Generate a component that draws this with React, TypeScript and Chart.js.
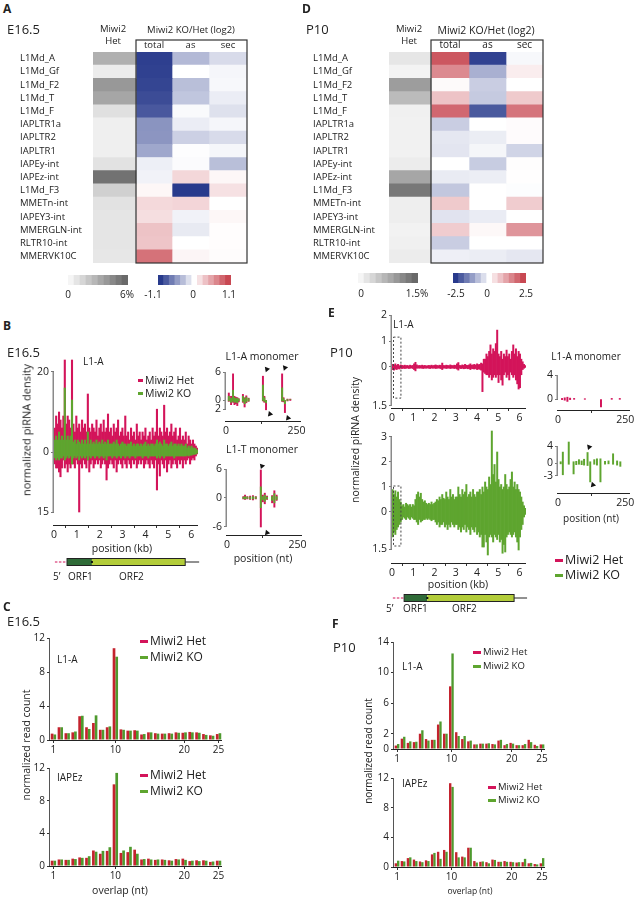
import React, { useEffect, useRef } from 'react';
import { Chart, registerables } from 'chart.js';
Chart.register(...registerables);

const FONT = '"Open Sans", "Noto Sans", "DejaVu Sans", sans-serif';
Chart.defaults.font.family = FONT;
Chart.defaults.color = '#222';

// ================= DATA =================
const teRows = ['L1Md_A', 'L1Md_Gf', 'L1Md_F2', 'L1Md_T', 'L1Md_F', 'IAPLTR1a', 'IAPLTR2', 'IAPLTR1', 'IAPEy-int', 'IAPEz-int', 'L1Md_F3', 'MMETn-int', 'IAPEY3-int', 'MMERGLN-int', 'RLTR10-int', 'MMERVK10C'];
const heatHeaders = ['total', 'as', 'sec'];

// Panel A (E16.5): Het abundance (%), log2 KO/Het
const aHet = [2.96, 0.4, 4.0, 3.4, 0.9, 0.26, 0.26, 0.26, 0.8, 5.6, 1.6, 0.8, 0.7, 0.7, 0.7, 0.6];
const aTotal = [-1.07, -1.06, -1.04, -1.0, -0.93, -0.6, -0.59, -0.49, -0.09, -0.07, 0.05, 0.23, 0.2, 0.36, 0.35, 0.85];
const aAs = [-0.39, 0, -0.36, -0.32, -0.03, -0.1, -0.26, -0.01, -0.02, 0.24, -1.1, 0.25, -0.07, -0.12, 0, 0.06];
const aSec = [-0.2, -0.05, -0.04, -0.1, -0.17, -0.05, -0.2, -0.05, -0.36, 0.05, 0.18, 0, 0.05, 0.01, 0.01, 0.02];
const aGrayMax = 6;
const aRatioMax = 1.1;

// Panel D (P10)
const dHet = [0.16, 0.02, 0.94, 0.62, 0.05, 0.04, 0.04, 0.04, 0.1, 0.85, 1.34, 0.08, 0.08, 0.03, 0.05, 0.1];
const dTotal = [2.3, 1.6, 0.07, 0.82, 2.07, -0.63, -0.3, -0.33, 0, -0.26, -0.71, 0.73, -0.35, 0.7, -0.63, -0.2];
const dAs = [-2.4, -1.0, -0.63, -0.67, -2.1, 0, -0.23, -0.12, -0.65, -0.22, 0, 0, -0.24, 0.1, 0, -0.23];
const dSec = [-0.09, 0.25, 0, 0.73, 1.9, 0.05, 0.05, -0.55, 0.03, 0.02, -0.03, 0.7, 0, 1.45, 0, -0.3];
const dGrayMax = 1.5;
const dRatioMax = 2.5;

// Colour-bar steps
const aGraySteps = [0, 0.67, 1.33, 2, 2.67, 3.33, 4, 4.67, 5.33, 6];
const aRatioSteps = [-1.1, -0.92, -0.73, -0.55, -0.37, -0.18, 0, 0.18, 0.37, 0.55, 0.73, 0.92, 1.1];
const dGraySteps = [0, 0.17, 0.33, 0.5, 0.67, 0.83, 1.0, 1.17, 1.33, 1.5];
const dRatioSteps = [-2.5, -2.08, -1.67, -1.25, -0.83, -0.42, 0, 0.42, 0.83, 1.25, 1.67, 2.08, 2.5];

// Panel B: L1-A piRNA density, 100 bins of 63 nt (E16.5)
const bBinKb = 0.063;
const bHetS = [6, 9, 7, 10, 8, 6, 9, 23, 7, 9, 8, 6, 23, 7, 5, 9, 6, 7, 5, 8, 6, 7, 5, 14.5, 6, 5, 7, 6, 5, 8, 4, 6, 7, 5, 8, 5, 6, 9.5, 5, 6, 4, 7, 5, 6, 8, 4, 5, 6, 4, 9, 4, 5, 3, 6, 4, 5, 3, 7, 4, 5, 3, 5, 4, 6, 3, 4, 5, 3, 6, 4, 5, 10.7, 4, 6, 5, 4, 11.7, 5, 6, 4, 5, 7, 4, 5, 6, 3, 4, 6, 3, 4, 3, 5, 2, 4, 3, 2, 3, 2, 1.5, 1];
const bHetA = [-3, -4, -4, -5, -6.2, -4, -2, -4, -3, -5, -3, -4, -2, -3, -4, -2, -3, -15, -3, -4, -2, -3, -4, -2, -5, -3, -2, -4, -3, -2, -3, -2, -4, -3, -2, -3, -7, -4, -3, -2, -3, -4, -2, -5, -3, -2, -3, -4, -2, -3, -4, -2, -3, -4, -2, -3, -2, -4, -3, -2, -3, -2, -4, -3, -2, -3, -4, -2, -3, -4, -2, -9.5, -3, -6, -2, -3, -4, -2, -5, -3, -2, -4, -3, -2, -3, -4, -2, -3, -2, -4, -2, -3, -2, -1.5, -3, -2, -1.5, -2, -1, -0.5];
const bKoS = [3, 4, 3, 5, 3, 4, 3, 16, 3, 4, 3, 4, 13, 2.5, 3, 2, 3, 2.5, 2, 3, 2, 3, 2, 5, 2, 3, 2, 2.5, 2, 3, 2, 2.5, 2, 3, 2, 2.5, 2, 3, 2, 2, 2, 2.5, 2, 3, 2, 1.5, 2, 2.5, 2, 2, 1.5, 2, 2, 2.5, 1.5, 2, 1.5, 2, 2, 1.5, 2, 1.5, 2, 2.5, 1.5, 2, 1.5, 2, 2, 1.5, 2, 3, 2, 2.5, 2, 1.5, 3, 2, 2, 1.5, 2, 2.5, 1.5, 2, 2, 1.5, 2, 1.5, 2, 1.5, 1.5, 2, 1, 1.5, 1, 1.5, 1, 1, 0.8, 0.5];
const bKoA = [-1.5, -2, -1.5, -2, -1.5, -1.5, -1, -2, -1.5, -1, -1.5, -1, -3, -1.5, -1, -1.5, -1, -2, -1, -1.5, -1, -1.5, -1, -2, -1, -1.5, -1, -1, -1.5, -1, -1, -1.5, -1, -1, -1.5, -1, -2, -1, -1, -1, -1.5, -1, -1, -1.5, -1, -1, -1.5, -1, -1, -1.5, -1, -1, -1.5, -1, -1, -1, -1.5, -1, -1, -1, -1, -1.5, -1, -1, -1, -1.5, -1, -1, -1, -1, -1, -1.5, -1, -1.5, -1, -1, -1.5, -1, -1, -1, -1, -1, -1, -1.5, -1, -1, -1, -1, -1, -1, -1, -1, -0.8, -1, -0.8, -0.8, -0.6, -0.6, -0.5, -0.3];

// Panel B insets (nt positions, density)
const bm1Pos = [10, 18, 25, 30, 35, 40, 45, 60, 66, 72, 80, 131, 136, 142, 199, 204, 209, 218, 228];
const bm1HetS = [1.5, 0.8, 5.6, 0.8, 0.6, 0.5, 0.3, 1.2, 0.5, 0.9, 0.4, 5.1, 0.8, 0, 5.6, 0.5, 0, 0.2, 0.2];
const bm1HetA = [-0.3, -1.0, -0.5, -1.0, -0.8, -1.2, -0.4, -0.5, -1.5, -0.6, -0.3, -0.2, -0.5, -2.1, -0.3, -0.4, -2.7, -0.2, -0.1];
const bm1KoS = [0.8, 0.4, 2.1, 0.5, 0.3, 0.4, 0.2, 0.8, 0.3, 0.6, 0.3, 3.2, 0.5, 0, 2.6, 0.3, 0, 0.1, 0.1];
const bm1KoA = [-0.2, -0.5, -0.3, -0.5, -0.4, -0.6, -0.2, -0.3, -0.8, -0.4, -0.2, -0.1, -0.3, -0.6, -0.2, -0.2, -0.8, -0.1, 0];
const bm1ArrowX = [145, 209, 156, 220];
const bm1ArrowY = [6.6, 6.9, -3.0, -3.85];

const bm2Pos = [58, 64, 72, 82, 92, 102, 120, 127, 134, 142, 160, 168, 176];
const bm2HetS = [0.3, 0.6, 0.3, 0.4, 0.5, 0.3, 5.8, 0.6, 1.0, 0.4, 0.5, 1.5, 0.6];
const bm2HetA = [-0.2, -0.3, -0.2, -0.3, -0.4, -0.2, -6.0, -0.8, -1.2, -0.3, -1.0, -1.9, -0.5];
const bm2KoS = [0.15, 0.3, 0.2, 0.2, 0.3, 0.2, 2.3, 0.3, 0.6, 0.2, 0.3, 0.9, 0.3];
const bm2KoA = [-0.1, -0.2, -0.1, -0.2, -0.2, -0.1, -2.0, -0.4, -0.7, -0.2, -0.5, -1.0, -0.3];
const bm2ArrowX = [124, 142];
const bm2ArrowY = [6.6, -7.2];

// Panel E: P10 L1-A density, 100 bins of 63 nt
const eHetS = [0.1, 0.08, 0.12, 0.06, 0.1, 0.05, 0.08, 0.06, 0.05, 0.07, 0.05, 0.06, 0.04, 0.07, 0.05, 0.06, 0.12, 0.18, 0.08, 0.05, 0.06, 0.05, 0.07, 0.05, 0.06, 0.04, 0.05, 0.06, 0.05, 0.07, 0.05, 0.06, 0.08, 0.06, 0.05, 0.07, 0.06, 0.15, 0.06, 0.05, 0.07, 0.06, 0.05, 0.08, 0.06, 0.05, 0.07, 0.06, 0.12, 0.17, 0.06, 0.05, 0.08, 0.06, 0.1, 0.07, 0.06, 0.08, 0.12, 0.07, 0.08, 0.1, 0.07, 0.12, 0.09, 0.1, 0.15, 0.12, 0.3, 0.3, 0.5, 0.4, 0.6, 0.85, 0.5, 0.7, 0.6, 0.9, 1.42, 0.5, 0.4, 0.6, 0.3, 0.5, 0.4, 0.65, 0.4, 0.5, 0.3, 0.6, 0.85, 0.5, 0.7, 0.4, 0.6, 0.5, 0.3, 0.2, 0.1, 0.05];
const eHetA = [-0.1, -0.12, -0.08, -0.1, -0.06, -0.08, -0.05, -0.06, -0.05, -0.06, -0.05, -0.04, -0.06, -0.05, -0.04, -0.06, -0.1, -0.15, -0.05, -0.04, -0.05, -0.04, -0.05, -0.06, -0.04, -0.05, -0.04, -0.05, -0.06, -0.04, -0.05, -0.04, -0.06, -0.05, -0.04, -0.05, -0.06, -0.1, -0.05, -0.04, -0.06, -0.05, -0.04, -0.06, -0.05, -0.04, -0.06, -0.05, -0.08, -0.12, -0.05, -0.06, -0.05, -0.07, -0.06, -0.05, -0.07, -0.06, -0.1, -0.06, -0.07, -0.08, -0.06, -0.1, -0.08, -0.09, -0.12, -0.95, -0.2, -0.25, -0.3, -0.3, -0.4, -0.3, -0.5, -0.4, -0.3, -0.4, -0.3, -0.6, -0.3, -0.5, -0.7, -0.3, -0.2, -0.4, -0.3, -0.5, -0.2, -0.3, -0.4, -0.3, -0.5, -0.65, -0.85, -0.8, -0.3, -0.1, -0.05, -0.02];
const eKoS = [0.9, 0.7, 0.85, 0.6, 0.8, 0.5, 0.4, 0.25, 0.3, 0.2, 0.35, 0.3, 0.25, 0.3, 0.2, 0.3, 0.25, 0.5, 0.7, 0.8, 0.6, 0.75, 0.5, 0.4, 0.45, 0.35, 0.3, 0.35, 0.3, 0.4, 0.3, 0.35, 0.4, 0.5, 0.45, 0.6, 0.5, 0.7, 0.55, 0.5, 0.8, 0.6, 0.5, 0.9, 0.6, 0.7, 0.5, 0.6, 0.6, 1.0, 0.7, 0.6, 0.9, 0.7, 0.8, 1.1, 0.6, 0.7, 0.8, 0.6, 0.9, 0.7, 0.6, 0.8, 0.8, 0.9, 0.7, 1.0, 0.8, 1.2, 1.0, 0.9, 1.4, 1.1, 3.24, 1.5, 1.9, 1.2, 2.4, 1.3, 1.0, 1.1, 0.9, 1.0, 1.5, 1.1, 0.9, 1.0, 1.3, 1.6, 1.0, 1.2, 0.9, 1.1, 0.9, 0.8, 0.6, 0.4, 0.25, 0.15];
const eKoA = [-1.0, -0.8, -0.9, -0.7, -0.6, -0.5, -0.4, -0.3, -0.2, -0.25, -0.3, -0.2, -0.25, -0.3, -0.2, -0.25, -0.3, -0.3, -0.4, -0.5, -0.3, -0.4, -0.35, -0.3, -0.3, -0.25, -0.3, -0.25, -0.3, -0.35, -0.3, -0.3, -0.4, -0.5, -0.4, -0.6, -0.5, -0.5, -0.4, -0.6, -0.5, -0.7, -0.5, -0.6, -0.4, -0.5, -0.6, -0.5, -0.5, -0.7, -0.6, -0.8, -0.6, -0.7, -0.5, -0.8, -0.6, -0.7, -0.9, -0.6, -0.7, -0.8, -0.6, -0.9, -0.8, -1.0, -0.9, -1.4, -1.4, -0.9, -1.2, -1.72, -1.0, -0.9, -1.0, -1.2, -0.9, -1.0, -1.1, -0.9, -1.2, -1.1, -1.65, -1.3, -1.6, -1.0, -0.9, -0.8, -0.9, -1.0, -0.9, -0.8, -1.0, -1.2, -1.52, -1.0, -0.7, -0.5, -0.2, -0.1];

// Panel E insets
const em1Pos = [15, 25, 35, 45, 60, 100, 160, 200, 230];
const em1HetS = [0.1, 0.2, 0.3, 0.15, 0.1, 0.05, 0, 0.1, 0.1];
const em1HetA = [-0.1, -0.2, -0.4, -0.1, -0.05, -0.05, -1.3, -0.05, -0.05];
const em2Pos = [10, 18, 40, 58, 68, 78, 88, 97, 110, 120, 135, 145, 158, 175, 188, 205, 220, 232];
const em2KoS = [0.3, 2.6, 5.0, 0.3, 0.4, 0.8, 0.5, 0.9, 2.5, 0.3, 0.8, 1.0, 1.0, 0.4, 0.5, 2.2, 0.5, 0.3];
const em2KoA = [-0.2, -2.8, -0.3, -2.6, -0.4, -0.3, -0.4, -0.5, -0.6, -4.5, -0.3, -0.5, -4.5, -0.3, -0.2, -0.3, -0.5, -0.8];
const em2ArrowX = [116, 130];
const em2ArrowY = [3.8, -5.2];

// Gene model (kb)
const geneUtr = [0.04, 0.57];
const geneOrf1 = [0.57, 1.66];
const geneOrf2 = [1.66, 5.74];
const geneEnd = 6.35;

// Panels C / F: ping-pong overlap
const overlapCats = [1, 2, 3, 4, 5, 6, 7, 8, 9, 10, 11, 12, 13, 14, 15, 16, 17, 18, 19, 20, 21, 22, 23, 24, 25];
const cL1Het = [0.75, 1.5, 0.8, 0.9, 2.8, 1.5, 2.0, 1.2, 1.5, 10.8, 1.25, 1.1, 1.15, 0.65, 0.9, 0.8, 0.75, 0.8, 0.9, 0.85, 0.95, 0.9, 0.7, 0.55, 0.7];
const cL1Ko = [0.65, 1.5, 0.8, 1.0, 2.85, 1.3, 2.9, 1.2, 1.6, 9.8, 1.2, 1.1, 1.1, 0.7, 0.9, 0.75, 0.75, 0.75, 0.85, 0.9, 0.9, 0.85, 0.6, 0.5, 0.8];
const cIapHet = [0.65, 0.8, 0.75, 0.9, 1.05, 1.0, 1.9, 1.5, 1.85, 10.0, 1.6, 1.7, 2.0, 0.8, 0.9, 0.75, 0.8, 0.7, 0.85, 0.9, 0.6, 0.7, 0.7, 0.5, 0.65];
const cIapKo = [0.65, 0.8, 0.75, 0.85, 1.0, 1.2, 1.75, 1.85, 2.3, 11.4, 1.9, 2.35, 1.5, 0.85, 0.8, 0.8, 0.75, 0.65, 0.8, 0.75, 0.65, 0.6, 0.65, 0.55, 0.65];
const fL1Het = [0.45, 1.35, 0.8, 0.9, 2.0, 1.3, 1.2, 3.2, 2.0, 8.2, 2.2, 1.3, 1.0, 0.6, 0.7, 0.7, 0.65, 1.1, 0.5, 0.8, 0.5, 0.5, 1.2, 0.55, 0.6];
const fL1Ko = [0.65, 1.6, 1.0, 0.95, 2.45, 1.1, 1.2, 3.6, 2.0, 12.5, 1.7, 1.7, 1.1, 0.6, 0.7, 0.75, 0.6, 1.2, 0.65, 0.7, 0.5, 0.65, 0.9, 0.4, 0.6];
const fIapHet = [0.5, 0.8, 1.2, 1.0, 0.75, 0.9, 1.7, 2.05, 2.3, 11.3, 2.0, 1.4, 2.6, 0.8, 0.7, 0.65, 1.0, 0.7, 0.8, 0.7, 0.6, 0.65, 0.5, 0.4, 0.5];
const fIapKo = [0.85, 0.75, 1.3, 0.8, 0.65, 0.8, 1.9, 1.1, 2.05, 10.8, 1.3, 1.3, 2.6, 0.6, 0.75, 0.5, 0.95, 0.7, 0.7, 0.65, 0.65, 1.1, 0.55, 0.35, 1.2];
const overlapTickIdx = [0, 9, 19, 24];

// ================= STYLE =================
const RED = '#d3145a';
const GREEN = '#5ea52f';
const BAR_RED = '#c4232e';
const BAR_GREEN = '#4e9a2e';
const BLUE_END = [40, 58, 140];
const RED_END = [200, 72, 82];
const PAD = 14;

function mix(c: number[], t: number) {
  return `rgb(${Math.round(255 + (c[0] - 255) * t)},${Math.round(255 + (c[1] - 255) * t)},${Math.round(255 + (c[2] - 255) * t)})`;
}
function divColor(vmax: number) {
  return (v: number) => {
    const t = Math.max(-1, Math.min(1, v / vmax));
    return t < 0 ? mix(BLUE_END, -t) : mix(RED_END, t);
  };
}
function grayColor(vmax: number) {
  return (v: number) => {
    const t = Math.max(0, Math.min(1, v / vmax));
    const g = Math.round(245 - 140 * t);
    return `rgb(${g},${g},${g})`;
  };
}

type Geo = { L: number; T: number; R: number; B: number; yW: number; xH: number; topH?: number };
function rectOf(g: Geo) {
  const topH = g.topH || 0;
  return {
    left: g.L - g.yW - PAD,
    top: g.T - topH - PAD,
    width: g.R - g.L + g.yW + 2 * PAD,
    height: g.B - g.T + g.xH + topH + 2 * PAD,
  };
}

function baseOpts(extra: any) {
  return {
    animation: false,
    responsive: false,
    maintainAspectRatio: false,
    events: [],
    layout: { padding: PAD },
    plugins: { legend: { display: false }, tooltip: { enabled: false } },
    ...extra,
  };
}

function linAxis(o: any) {
  return {
    type: 'linear',
    min: o.min,
    max: o.max,
    offset: false,
    position: o.pos,
    afterFit: (s: any) => {
      if (o.horiz) s.height = o.size;
      else s.width = o.size;
    },
    afterBuildTicks: (s: any) => {
      s.ticks = o.ticks.map((v: number) => ({ value: v }));
    },
    ticks: {
      autoSkip: false,
      maxRotation: 0,
      minRotation: 0,
      padding: o.pad ?? 2,
      font: { size: o.fs ?? 10 },
      color: '#222',
      callback: (_v: any, i: number) => o.labels[i],
    },
    grid: { display: true, drawOnChartArea: false, drawTicks: true, tickLength: o.tl ?? 3, tickColor: o.tc ?? '#333', lineWidth: 1 },
    border: { display: false },
  };
}

function decoPlugin(cfg: any) {
  return {
    id: 'deco',
    afterDatasetsDraw(chart: any) {
      const { ctx, chartArea: ca, scales } = chart;
      const xs = scales.x;
      const ys = scales.y;
      ctx.save();
      if (cfg.dashed) {
        ctx.setLineDash([2, 2]);
        ctx.strokeStyle = '#444';
        ctx.lineWidth = 1;
        const d = cfg.dashed;
        const x0 = xs.getPixelForValue(d[0]) + 1.5;
        const x1 = xs.getPixelForValue(d[1]);
        const y0 = ys.getPixelForValue(d[3]);
        const y1 = ys.getPixelForValue(d[2]);
        ctx.strokeRect(x0, y0, x1 - x0, y1 - y0);
        ctx.setLineDash([]);
      }
      if (cfg.yLine) {
        const l = cfg.yLine;
        ctx.strokeStyle = l.color;
        ctx.lineWidth = l.width;
        const x = ca.left - l.width / 2;
        ctx.beginPath();
        ctx.moveTo(x, ys.getPixelForValue(l.from));
        ctx.lineTo(x, ys.getPixelForValue(l.to));
        ctx.stroke();
      }
      if (cfg.xLine) {
        const l = cfg.xLine;
        const y = ca.bottom + l.width / 2;
        const x0 = ca.left - (l.ext || 0);
        const x1 = l.to !== undefined ? xs.getPixelForValue(l.to) : ca.right;
        ctx.strokeStyle = l.color;
        ctx.lineWidth = l.width;
        ctx.beginPath();
        ctx.moveTo(x0, y);
        ctx.lineTo(x1, y);
        ctx.stroke();
      }
      if (cfg.frame) {
        const f = cfg.frame;
        const x0 = xs.getPixelForValue(f.x0);
        const x1 = xs.getPixelForValue(f.x1);
        ctx.strokeStyle = '#333';
        ctx.lineWidth = 1.2;
        ctx.strokeRect(x0, ca.top - f.above, x1 - x0, ca.bottom - ca.top + f.above);
      }
      if (cfg.gene) {
        const g = cfg.gene;
        const y = ca.bottom + g.dy;
        const h = 7;
        const px = (v: number) => xs.getPixelForValue(v);
        ctx.strokeStyle = '#222';
        ctx.lineWidth = 1;
        ctx.beginPath();
        ctx.moveTo(px(geneOrf2[1]), y);
        ctx.lineTo(px(geneEnd), y);
        ctx.stroke();
        ctx.strokeStyle = RED;
        ctx.setLineDash([2.5, 1.5]);
        ctx.beginPath();
        ctx.moveTo(px(geneUtr[0]), y);
        ctx.lineTo(px(geneUtr[1]), y);
        ctx.stroke();
        ctx.setLineDash([]);
        ctx.fillStyle = '#2f6b38';
        ctx.fillRect(px(geneOrf1[0]), y - h / 2, px(geneOrf1[1]) - px(geneOrf1[0]), h);
        ctx.fillStyle = '#b3cd3a';
        ctx.fillRect(px(geneOrf2[0]), y - h / 2, px(geneOrf2[1]) - px(geneOrf2[0]), h);
        ctx.strokeStyle = '#222';
        ctx.strokeRect(px(geneOrf1[0]), y - h / 2, px(geneOrf2[1]) - px(geneOrf1[0]), h);
        ctx.fillStyle = '#111';
        ctx.fillRect(px(geneOrf1[1]) - 1, y - 1, 2, 2);
      }
      ctx.restore();
    },
  };
}

// ---------- chart builders ----------
function heatmapConfig(cols: number[][], colorFns: ((v: number) => string)[], edges: number[], yW: number, titleFs: number) {
  const datasets = cols.map((vals, j) => ({
    data: teRows.map(() => [edges[j], edges[j + 1]]),
    backgroundColor: vals.map(colorFns[j]),
    borderWidth: 0,
    grouped: false,
    barPercentage: 1,
    categoryPercentage: 1,
  }));
  const centers = [1, 2, 3].map((j) => (edges[j] + edges[j + 1]) / 2);
  return {
    type: 'bar',
    data: { labels: teRows, datasets },
    options: baseOpts({
      indexAxis: 'y',
      scales: {
        y: {
          type: 'category',
          offset: true,
          afterFit: (s: any) => {
            s.width = yW;
          },
          grid: { display: false, drawTicks: false },
          border: { display: false },
          ticks: { crossAlign: 'far', autoSkip: false, font: { size: 9.5 }, color: '#222', padding: 0 },
        },
        x: {
          type: 'linear',
          position: 'top',
          min: 0,
          max: edges[4],
          offset: false,
          afterFit: (s: any) => {
            s.height = 12;
          },
          afterBuildTicks: (s: any) => {
            s.ticks = centers.map((v) => ({ value: v }));
          },
          ticks: { callback: (_v: any, i: number) => heatHeaders[i], font: { size: titleFs }, color: '#222', padding: 1, autoSkip: false, maxRotation: 0 },
          grid: { display: false, drawTicks: false },
          border: { display: false },
        },
      },
    }),
    plugins: [decoPlugin({ frame: { x0: edges[1], x1: edges[4], above: 12 } })],
  };
}

function colorbarConfig(steps: number[], fn: (v: number) => string) {
  return {
    type: 'bar',
    data: {
      labels: steps.map(String),
      datasets: [{ data: steps.map(() => 1), backgroundColor: steps.map(fn), borderWidth: 0, barPercentage: 1, categoryPercentage: 1 }],
    },
    options: baseOpts({ scales: { x: { display: false }, y: { display: false, min: 0, max: 1 } } }),
  };
}

function densityConfig(o: any) {
  const datasets: any[] = o.series.map((s: any, k: number) => ({
    type: 'bar',
    data: s.x.map((x: number, i: number) => ({ x, y: [s.lo[i], s.hi[i]] })),
    backgroundColor: s.color,
    borderWidth: 0,
    grouped: false,
    order: k,
    categoryPercentage: 1,
    barPercentage: 1,
    barThickness: o.thickness,
  }));
  if (o.arrows) {
    datasets.unshift({
      type: 'scatter',
      data: o.arrows.x.map((x: number, i: number) => ({ x, y: o.arrows.y[i] })),
      pointStyle: 'triangle',
      pointRadius: 3.2,
      pointRotation: o.arrows.y.map((v: number) => (v > 0 ? 200 : 340)),
      backgroundColor: '#111',
      borderColor: '#111',
      borderWidth: 0,
      order: -1,
    });
  }
  return {
    type: 'bar',
    data: { datasets },
    options: baseOpts({
      scales: {
        x: linAxis({ min: o.xMin, max: o.xMax, ticks: o.xTicks, labels: o.xLabels, size: o.xH, horiz: true, fs: o.fs, tl: 3, pad: 1 }),
        y: linAxis({ min: o.yMin, max: o.yMax, ticks: o.yTicks, labels: o.yLabels, size: o.yW, fs: o.fs, tl: 3, tc: '#777' }),
      },
    }),
    plugins: [
      decoPlugin({
        yLine: { from: o.yTicks[0], to: o.yTicks[o.yTicks.length - 1], color: '#8a8a8a', width: 1.5 },
        xLine: { color: '#222', width: 1, ext: 1, to: o.xLineTo },
        gene: o.gene,
        dashed: o.dashed,
      }),
    ],
  };
}

function overlapConfig(o: any) {
  return {
    type: 'bar',
    data: {
      labels: overlapCats.map(String),
      datasets: [
        { data: o.het, backgroundColor: BAR_RED, borderWidth: 0, categoryPercentage: 0.78, barPercentage: 1 },
        { data: o.ko, backgroundColor: BAR_GREEN, borderWidth: 0, categoryPercentage: 0.78, barPercentage: 1 },
      ],
    },
    options: baseOpts({
      scales: {
        x: {
          type: 'category',
          offset: true,
          afterFit: (s: any) => {
            s.height = o.xH;
          },
          afterBuildTicks: (s: any) => {
            s.ticks = overlapTickIdx.map((v) => ({ value: v }));
          },
          ticks: { autoSkip: false, maxRotation: 0, padding: 1, font: { size: 10 }, color: '#222', callback: (v: number) => String(overlapCats[v]) },
          grid: { display: true, offset: false, drawOnChartArea: false, tickLength: 3, tickColor: '#333' },
          border: { display: false },
        },
        y: linAxis({ min: 0, max: o.yMax, ticks: o.yTicks, labels: o.yTicks.map(String), size: o.yW, fs: 10, tl: 3 }),
      },
    }),
    plugins: [
      decoPlugin({
        yLine: { from: 0, to: o.yTicks[o.yTicks.length - 1], color: '#555', width: 1 },
        xLine: { color: '#222', width: 1, ext: 1 },
      }),
    ],
  };
}

// ---------- layouts ----------
const heatEdgesA = [0, 43, 79, 116, 154];
const heatEdgesD = [0, 42, 80, 117, 154];
const kbTicks = [0, 1, 2, 3, 4, 5, 6];
const kbLabels = kbTicks.map(String);
const bBins = bHetS.map((_, i) => (i + 0.5) * bBinKb);

type ChartSpec = { geo: Geo; make: () => any };
const charts: ChartSpec[] = [
  { geo: { L: 93, T: 52, R: 247, B: 263, yW: 73, xH: 0, topH: 12 }, make: () => heatmapConfig([aHet, aTotal, aAs, aSec], [grayColor(aGrayMax), divColor(aRatioMax), divColor(aRatioMax), divColor(aRatioMax)], heatEdgesA, 73, 9.5) },
  { geo: { L: 389, T: 52, R: 543, B: 263, yW: 76, xH: 0, topH: 12 }, make: () => heatmapConfig([dHet, dTotal, dAs, dSec], [grayColor(dGrayMax), divColor(dRatioMax), divColor(dRatioMax), divColor(dRatioMax)], heatEdgesD, 76, 10) },
  { geo: { L: 68, T: 275, R: 128, B: 285, yW: 0, xH: 0 }, make: () => colorbarConfig(aGraySteps, grayColor(aGrayMax)) },
  { geo: { L: 158, T: 275, R: 231, B: 285, yW: 0, xH: 0 }, make: () => colorbarConfig(aRatioSteps, divColor(aRatioMax)) },
  { geo: { L: 358, T: 273, R: 418, B: 283, yW: 0, xH: 0 }, make: () => colorbarConfig(dGraySteps, grayColor(dGrayMax)) },
  { geo: { L: 453, T: 273, R: 526, B: 283, yW: 0, xH: 0 }, make: () => colorbarConfig(dRatioSteps, divColor(dRatioMax)) },
  // B main
  {
    geo: { L: 54, T: 359, R: 198, B: 525, yW: 22, xH: 50 },
    make: () =>
      densityConfig({
        series: [
          { x: bBins, lo: bKoA, hi: bKoS, color: GREEN },
          { x: bBins, lo: bHetA, hi: bHetS, color: RED },
        ],
        xMin: 0, xMax: 6.3, xTicks: kbTicks, xLabels: kbLabels,
        yMin: -18.25, yMax: 23.25, yTicks: [20, 0, -15], yLabels: ['20', '0', '15'],
        yW: 22, xH: 50, fs: 10.5, gene: { dy: 37 },
      }),
  },
  // B inset L1-A monomer
  {
    geo: { L: 226, T: 365, R: 301, B: 421, yW: 14, xH: 20 },
    make: () =>
      densityConfig({
        series: [
          { x: bm1Pos, lo: bm1KoA, hi: bm1KoS, color: GREEN },
          { x: bm1Pos, lo: bm1HetA, hi: bm1HetS, color: RED },
        ],
        arrows: { x: bm1ArrowX, y: bm1ArrowY },
        thickness: 1.3,
        xMin: 0, xMax: 266, xTicks: [0, 250], xLabels: ['0', '250'],
        yMin: -4.5, yMax: 7.5, yTicks: [6, 0, -2], yLabels: ['6', '0', '2'],
        yW: 14, xH: 20, fs: 10.5,
      }),
  },
  // B inset L1-T monomer
  {
    geo: { L: 227, T: 462, R: 302, B: 535, yW: 16, xH: 20 },
    make: () =>
      densityConfig({
        series: [
          { x: bm2Pos, lo: bm2KoA, hi: bm2KoS, color: GREEN },
          { x: bm2Pos, lo: bm2HetA, hi: bm2HetS, color: RED },
        ],
        arrows: { x: bm2ArrowX, y: bm2ArrowY },
        thickness: 1.3,
        xMin: 0, xMax: 266, xTicks: [0, 250], xLabels: ['0', '250'],
        yMin: -7.66, yMax: 7.45, yTicks: [6, 0, -6], yLabels: ['6', '0', '-6'],
        yW: 16, xH: 20, fs: 10.5,
      }),
  },
  // E top (Het)
  {
    geo: { L: 392, T: 314, R: 526, B: 408, yW: 22, xH: 20 },
    make: () =>
      densityConfig({
        series: [{ x: bBins, lo: eHetA, hi: eHetS, color: RED }],
        xMin: 0, xMax: 6.3, xTicks: kbTicks, xLabels: kbLabels,
        yMin: -1.58, yMax: 2.04, yTicks: [2, 1, 0, -1.5], yLabels: ['2', '1', '0', '1.5'],
        yW: 22, xH: 20, fs: 10.5, dashed: [0, 0.42, -1.2, 1.15],
      }),
  },
  // E bottom (KO)
  {
    geo: { L: 392, T: 429, R: 526, B: 563, yW: 22, xH: 50 },
    make: () =>
      densityConfig({
        series: [{ x: bBins, lo: eKoA, hi: eKoS, color: GREEN }],
        xMin: 0, xMax: 6.3, xTicks: kbTicks, xLabels: kbLabels,
        yMin: -2.04, yMax: 3.32, yTicks: [3, 2, 1, 0, -1.5], yLabels: ['3', '2', '1', '0', '1.5'],
        yW: 22, xH: 50, fs: 10.5, dashed: [0, 0.42, -1.36, 1.04], gene: { dy: 35 },
      }),
  },
  // E inset top
  {
    geo: { L: 558, T: 372, R: 630, B: 410, yW: 12, xH: 18 },
    make: () =>
      densityConfig({
        series: [{ x: em1Pos, lo: em1HetA, hi: em1HetS, color: RED }],
        thickness: 1.3,
        xMin: 0, xMax: 268, xTicks: [0, 250], xLabels: ['0', '250'],
        yMin: -1.83, yMax: 4.5, yTicks: [4, 0], yLabels: ['4', '0'],
        yW: 12, xH: 18, fs: 10.5,
      }),
  },
  // E inset bottom
  {
    geo: { L: 558, T: 436, R: 630, B: 493, yW: 14, xH: 18 },
    make: () =>
      densityConfig({
        series: [{ x: em2Pos, lo: em2KoA, hi: em2KoS, color: GREEN }],
        arrows: { x: em2ArrowX, y: em2ArrowY },
        thickness: 1.3,
        xMin: 0, xMax: 268, xTicks: [0, 250], xLabels: ['0', '250'],
        yMin: -7.14, yMax: 6.43, yTicks: [4, 0, -3], yLabels: ['4', '0', '-3'],
        yW: 14, xH: 18, fs: 10.5,
      }),
  },
  // C
  { geo: { L: 50, T: 638, R: 222, B: 740, yW: 24, xH: 18 }, make: () => overlapConfig({ het: cL1Het, ko: cL1Ko, yMax: 12, yTicks: [0, 4, 8, 12], yW: 24, xH: 18 }) },
  { geo: { L: 50, T: 768, R: 222, B: 866, yW: 24, xH: 18 }, make: () => overlapConfig({ het: cIapHet, ko: cIapKo, yMax: 12, yTicks: [0, 4, 8, 12], yW: 24, xH: 18 }) },
  // F
  { geo: { L: 394, T: 642, R: 545, B: 749, yW: 24, xH: 18 }, make: () => overlapConfig({ het: fL1Het, ko: fL1Ko, yMax: 14, yTicks: [0, 2, 6, 10, 14], yW: 24, xH: 18 }) },
  { geo: { L: 394, T: 778, R: 545, B: 867, yW: 24, xH: 18 }, make: () => overlapConfig({ het: fIapHet, ko: fIapKo, yMax: 12, yTicks: [0, 4, 8, 12], yW: 24, xH: 18 }) },
];

// ---------- text ----------
type TextSpec = { x: number; y: number; t: string; s?: number; a?: 'l' | 'c' | 'r'; b?: boolean; r?: boolean };
const texts: TextSpec[] = [
  { x: 3, y: 9, t: 'A', s: 12, b: true },
  { x: 7, y: 29, t: 'E16.5', s: 13 },
  { x: 113, y: 29, t: 'Miwi2', s: 9.5, a: 'c' },
  { x: 113, y: 40.5, t: 'Het', s: 9.5, a: 'c' },
  { x: 191, y: 29.5, t: 'Miwi2 KO/Het (log2)', s: 9.5, a: 'c' },
  { x: 68, y: 294, t: '0', s: 10, a: 'c' },
  { x: 127, y: 294, t: '6%', s: 10, a: 'c' },
  { x: 153, y: 294, t: '-1.1', s: 10, a: 'c' },
  { x: 193, y: 294, t: '0', s: 10, a: 'c' },
  { x: 229, y: 294, t: '1.1', s: 10, a: 'c' },
  { x: 302, y: 9, t: 'D', s: 12, b: true },
  { x: 306, y: 29, t: 'P10', s: 13 },
  { x: 409, y: 29, t: 'Miwi2', s: 9.5, a: 'c' },
  { x: 409, y: 40.5, t: 'Het', s: 9.5, a: 'c' },
  { x: 486, y: 29.5, t: 'Miwi2 KO/Het (log2)', s: 10.5, a: 'c' },
  { x: 361, y: 292.5, t: '0', s: 10, a: 'c' },
  { x: 417, y: 292.5, t: '1.5%', s: 10, a: 'c' },
  { x: 456, y: 292.5, t: '-2.5', s: 10, a: 'c' },
  { x: 487, y: 292.5, t: '0', s: 10, a: 'c' },
  { x: 526, y: 292.5, t: '2.5', s: 10, a: 'c' },
  // B
  { x: 3, y: 326, t: 'B', s: 12, b: true },
  { x: 7, y: 351.5, t: 'E16.5', s: 13 },
  { x: 83, y: 360.5, t: 'L1-A', s: 10 },
  { x: 26, y: 430, t: 'normalized piRNA density', s: 11, r: true },
  { x: 122, y: 547.5, t: 'position (kb)', s: 10.5, a: 'c' },
  { x: 53, y: 576, t: '5\u2019', s: 10 },
  { x: 68, y: 576, t: 'ORF1', s: 10 },
  { x: 119, y: 576, t: 'ORF2', s: 10 },
  { x: 262, y: 356, t: 'L1-A monomer', s: 10.5, a: 'c' },
  { x: 262, y: 449, t: 'L1-T monomer', s: 10.5, a: 'c' },
  { x: 263, y: 557.5, t: 'position (nt)', s: 10.5, a: 'c' },
  // C
  { x: 3, y: 606.5, t: 'C', s: 12, b: true },
  { x: 7, y: 621, t: 'E16.5', s: 13 },
  { x: 57, y: 658.5, t: 'L1-A', s: 10 },
  { x: 57, y: 776.5, t: 'IAPEz', s: 10 },
  { x: 26, y: 745, t: 'normalized read count', s: 10.5, r: true },
  { x: 120, y: 890, t: 'overlap (nt)', s: 10.5, a: 'c' },
  // E
  { x: 328, y: 312.5, t: 'E', s: 12, b: true },
  { x: 393, y: 324, t: 'L1-A', s: 10 },
  { x: 330, y: 352, t: 'P10', s: 13 },
  { x: 586, y: 356, t: 'L1-A monomer', s: 10, a: 'c' },
  { x: 458, y: 584, t: 'position (kb)', s: 10.5, a: 'c' },
  { x: 355, y: 440, t: 'normalized piRNA density', s: 10.5, r: true },
  { x: 386, y: 607.5, t: '5\u2019', s: 10 },
  { x: 403, y: 607.5, t: 'ORF1', s: 10 },
  { x: 452, y: 607.5, t: 'ORF2', s: 10 },
  { x: 591, y: 518, t: 'position (nt)', s: 10, a: 'c' },
  // F
  { x: 332, y: 624, t: 'F', s: 12, b: true },
  { x: 333, y: 647, t: 'P10', s: 13 },
  { x: 402, y: 666, t: 'L1-A', s: 10 },
  { x: 402, y: 783, t: 'IAPEz', s: 10 },
  { x: 368, y: 751, t: 'normalized read count', s: 10, r: true },
  { x: 470, y: 891, t: 'overlap (nt)', s: 8.5, a: 'c' },
];

type LegendSpec = { x: number; y: number; w: number; s: number };
const legends: LegendSpec[] = [
  { x: 138, y: 380, w: 5, s: 10.5 },
  { x: 140, y: 641, w: 8, s: 12 },
  { x: 140, y: 775, w: 8, s: 12 },
  { x: 555, y: 560, w: 8, s: 12.5 },
  { x: 473, y: 652, w: 8, s: 9.5 },
  { x: 488, y: 787, w: 8, s: 9.5 },
];
const legendGaps = [13, 16, 16, 15, 14, 13];

function Txt({ x, y, t, s = 10, a = 'l', b, r }: TextSpec) {
  const tx = a === 'l' ? '0' : a === 'c' ? '-50%' : '-100%';
  const style: React.CSSProperties = {
    position: 'absolute',
    left: x,
    top: y,
    fontSize: s,
    fontFamily: FONT,
    fontWeight: b ? 700 : 400,
    lineHeight: 1,
    whiteSpace: 'nowrap',
    color: '#222',
    transform: r ? 'translate(-50%, -50%) rotate(-90deg)' : `translate(${tx}, -50%)`,
  };
  return <div style={style}>{t}</div>;
}

function Legend({ spec, gap }: { spec: LegendSpec; gap: number }) {
  const rows = [
    { c: RED, t: 'Miwi2 Het', dy: 0 },
    { c: GREEN, t: 'Miwi2 KO', dy: gap },
  ];
  return (
    <>
      {rows.map((r, i) => (
        <React.Fragment key={i}>
          <div style={{ position: 'absolute', left: spec.x, top: spec.y + r.dy - 1.5, width: spec.w, height: 3, background: r.c }} />
          <Txt x={spec.x + spec.w + 2} y={spec.y + r.dy} t={r.t} s={spec.s} />
        </React.Fragment>
      ))}
    </>
  );
}

function ChartCanvas({ geo, make }: ChartSpec) {
  const ref = useRef<HTMLCanvasElement>(null);
  const r = rectOf(geo);
  useEffect(() => {
    const c = new Chart(ref.current as HTMLCanvasElement, make());
    return () => c.destroy();
  }, []);
  return <canvas ref={ref} width={r.width} height={r.height} style={{ position: 'absolute', left: r.left, top: r.top, width: r.width, height: r.height }} />;
}

export default function App() {
  return (
    <div style={{ position: 'absolute', left: 0, top: 0, width: 643, height: 900, background: '#fff', overflow: 'hidden', fontFamily: FONT }}>
      {charts.map((c, i) => (
        <ChartCanvas key={i} geo={c.geo} make={c.make} />
      ))}
      {texts.map((t, i) => (
        <Txt key={'t' + i} {...t} />
      ))}
      {legends.map((l, i) => (
        <Legend key={'l' + i} spec={l} gap={legendGaps[i]} />
      ))}
    </div>
  );
}
